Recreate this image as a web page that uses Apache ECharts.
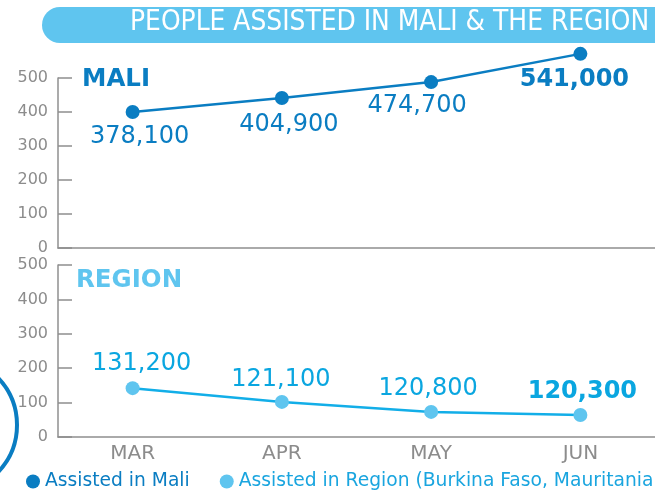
<!DOCTYPE html>
<html>
<head>
<meta charset="utf-8">
<script src="https://cdn.jsdelivr.net/npm/echarts@6/dist/echarts.min.js"></script>
<style>html,body{margin:0;padding:0;background:#fff}#c{width:655px;height:494px}</style>
</head>
<body>
<div id="c"></div>
<script>
var categories = ['MAR', 'APR', 'MAY', 'JUN'];
var yTicks = [0, 100, 200, 300, 400, 500];
// plotted positions (thousands) as drawn in the reference
var maliValues = [400, 441, 488, 571];
var regionValues = [142, 102, 73, 64];
// printed labels
var maliLabels = ['378,100', '404,900', '474,700', '541,000'];
var regionLabels = ['131,200', '121,100', '120,800', '120,300'];
var titleText = 'PEOPLE ASSISTED IN MALI & THE REGION';
var legendNames = ['Assisted in Mali', 'Assisted in Region (Burkina Faso, Mauritania'];

var FONT = "'DejaVu Sans', Verdana, sans-serif";
var DARK = '#0a7dc2', LIGHT = '#5fc5ef', CYAN = '#12aee8', GRAY = '#8c8c8c';

var chart = echarts.init(document.getElementById('c'), null, {renderer: 'canvas'});

var maliOffsets = [[7, 0], [7, 2], [-14, -1], [-6, 1]];
var regionOffsets = [[9, 1], [-1, 3], [-3, 2], [2, 2]];

function yAxisCfg(gi) {
  return {
    type: 'value', gridIndex: gi, min: yTicks[0], max: yTicks[yTicks.length - 1], interval: 100,
    axisLine: {show: true, lineStyle: {color: '#8f8f8f', width: 1.5}},
    axisTick: {show: true, inside: true, length: 14, lineStyle: {color: '#8f8f8f', width: 1.5}},
    axisLabel: {color: GRAY, fontSize: 16, fontFamily: FONT, margin: 10},
    splitLine: {show: false}
  };
}

var option = {
  animation: false,
  textStyle: {fontFamily: FONT},
  grid: [
    {left: 58, right: -3, top: 78, height: 170},
    {left: 58, right: -3, top: 265, height: 172}
  ],
  xAxis: [
    {type: 'category', gridIndex: 0, data: categories, boundaryGap: true,
     axisLine: {lineStyle: {color: '#8f8f8f', width: 1.5}}, axisTick: {show: false}, axisLabel: {show: false}},
    {type: 'category', gridIndex: 1, data: categories, boundaryGap: true,
     axisLine: {lineStyle: {color: '#8f8f8f', width: 1.5}}, axisTick: {show: false},
     axisLabel: {color: GRAY, fontSize: 20, fontFamily: FONT, margin: 7}}
  ],
  yAxis: [yAxisCfg(0), yAxisCfg(1)],
  legend: {
    left: 21, top: 467, width: 1200, itemWidth: 14, itemHeight: 14, itemGap: 30, icon: 'circle',
    textStyle: {fontSize: 18.7, fontFamily: FONT},
    data: [
      {name: legendNames[0], textStyle: {color: DARK}},
      {name: legendNames[1], textStyle: {color: '#1aa5df'}}
    ]
  },
  series: [
    {
      name: legendNames[0], type: 'line', xAxisIndex: 0, yAxisIndex: 0, clip: false,
      symbol: 'circle', symbolSize: 14,
      lineStyle: {color: DARK, width: 2.5}, itemStyle: {color: DARK},
      data: maliValues.map(function (v, i) {
        return {
          value: v,
          label: {
            show: true, position: 'bottom', distance: 6,
            offset: maliOffsets[i],
            formatter: maliLabels[i], color: DARK, fontSize: 24, fontFamily: FONT,
            fontWeight: i === maliValues.length - 1 ? 'bold' : 'normal'
          }
        };
      })
    },
    {
      name: legendNames[1], type: 'line', xAxisIndex: 1, yAxisIndex: 1, clip: false,
      symbol: 'circle', symbolSize: 14,
      lineStyle: {color: CYAN, width: 2.5}, itemStyle: {color: LIGHT},
      data: regionValues.map(function (v, i) {
        return {
          value: v,
          label: {
            show: true, position: 'top', distance: 6,
            offset: regionOffsets[i],
            formatter: regionLabels[i], color: '#0aa6e0', fontSize: 24, fontFamily: FONT,
            fontWeight: i === regionValues.length - 1 ? 'bold' : 'normal'
          }
        };
      })
    }
  ],
  graphic: [
    {type: 'rect', left: 42, top: 7, shape: {width: 640, height: 36, r: 18}, style: {fill: LIGHT}, z: 0},
    {type: 'text', left: 130, top: 9, style: {text: titleText, fill: '#ffffff', fontSize: 27.8,
      fontFamily: "'DejaVu Sans Condensed', 'Roboto', sans-serif", fontWeight: 300}, z: 1},
    {type: 'text', left: 82, top: 67, style: {text: 'MALI', fill: DARK, fontSize: 24.5, fontWeight: 'bold', fontFamily: FONT}},
    {type: 'text', left: 76, top: 268, style: {text: 'REGION', fill: LIGHT, fontSize: 24.5, fontWeight: 'bold', fontFamily: FONT}},
    {type: 'circle', shape: {cx: -51, cy: 425, r: 68}, style: {fill: 'none', stroke: DARK, lineWidth: 4}, z: 0}
  ]
};
chart.setOption(option);
</script>
</body>
</html>
